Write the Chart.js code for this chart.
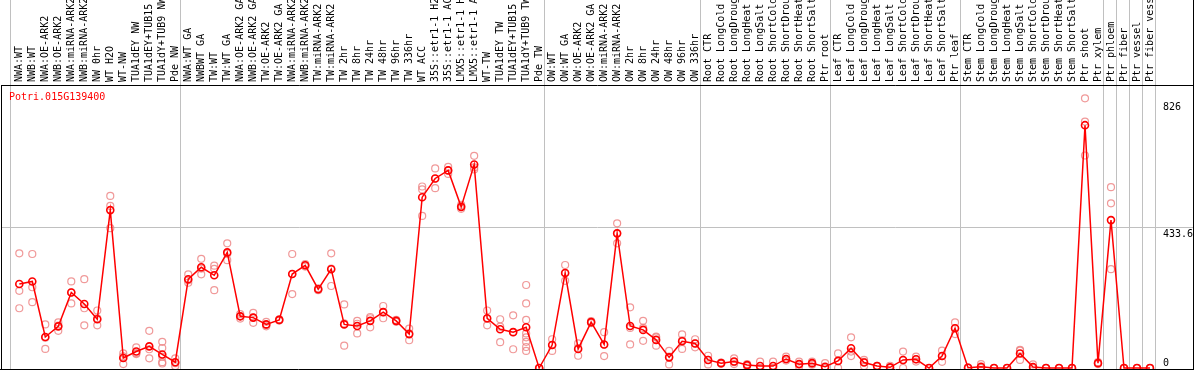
<!DOCTYPE html>
<html><head><meta charset="utf-8">
<script src="https://cdn.jsdelivr.net/npm/chart.js@4/dist/chart.umd.min.js"></script>
<style>html,body{margin:0;padding:0;background:#fff;overflow:hidden}canvas{display:block}</style>
</head><body><canvas id="c" width="1194" height="370"></canvas>
<script>
const geneName = "Potri.015G139400";

const categories = [
  "NWA:WT","NWB:WT","NWA:OE-ARK2","NWB:OE-ARK2","NWA:miRNA-ARK2","NWB:miRNA-ARK2","NW 0hr","WT H2O","WT-NW",
  "TUA1dEY NW","TUA1dEY+TUB15 NW","TUA1dY+TUB9 NW","Pde NW",
  "NWA:WT GA","NWBWT GA","TW:WT","TW:WT GA","NWA:OE-ARK2 GA","NWB:OE-ARK2 GA","TW:OE-ARK2","TW:OE-ARK2 GA",
  "NWA:miRNA-ARK2","NWB:miRNA-ARK2","TW:miRNA-ARK2","TW:miRNA-ARK2",
  "TW 2hr","TW 8hr","TW 24hr","TW 48hr","TW 96hr","TW 336hr",
  "WT ACC","35S::etr1-1 H2O","35S::etr1-1 ACC","LMX5::etr1-1 H2O","LMX5::etr1-1 ACC",
  "WT-TW","TUA1dEY TW","TUA1dEY+TUB15 TW","TUA1dY+TUB9 TW","Pde TW",
  "OW:WT","OW:WT GA","OW:OE-ARK2","OW:OE-ARK2 GA","OW:miRNA-ARK2","OW:miRNA-ARK2",
  "OW 2hr","OW 8hr","OW 24hr","OW 48hr","OW 96hr","OW 336hr",
  "Root CTR","Root LongCold","Root LongDrought","Root LongHeat","Root LongSalt","Root ShortCold","Root ShortDrought","Root ShortHeat","Root ShortSalt","Ptr root",
  "Leaf CTR","Leaf LongCold","Leaf LongDrought","Leaf LongHeat","Leaf LongSalt","Leaf ShortCold","Leaf ShortDrought","Leaf ShortHeat","Leaf ShortSalt","Ptr leaf",
  "Stem CTR","Stem LongCold","Stem LongDrought","Stem LongHeat","Stem LongSalt","Stem ShortCold","Stem ShortDrought","Stem ShortHeat","Stem ShortSalt","Ptr shoot",
  "Ptr xylem","Ptr phloem","Ptr fiber","Ptr vessel","Ptr fiber vessel"
];

const means = [
  260,268,96,129,234,198,151,489,31,51,67,42,18,
  275,312,287,358,160,156,135,149,291,318,244,306,
  135,130,146,173,146,105,
  529,587,612,499,630,
  154,120,111,126,0,
  71,294,59,142,73,417,130,118,87,33,83,76,
  25,15,20,9,6,6,28,12,15,4,
  22,61,17,6,2,25,27,0,37,123,
  1,4,0,0,45,3,0,0,0,752,
  15,458,0,0,0
];

const replicates = [
  [355,239,185],[353,250,204],[135,94,59],[141,131,115],[268,234,200],[275,185,132],[178,154,132],[533,502,433],[45,36,12],
  [64,46,43],[115,58,30],[81,62,35,18,14],[30,15,6],
  [290,272,264],[338,308,290],[317,307,241],[386,354,334],[167,160,153],[171,156,140],[143,133,129],[151,149,147],
  [353,291,229],[322,318,314],[247,244,241],[355,308,254],
  [197,138,69],[146,137,107],[158,154,126],[192,173,154],[149,146,143],[122,107,86],
  [562,553,471],[618,586,557],[623,612,601],[505,499,493],[657,621,615],
  [178,152,132],[151,128,80],[163,111,58],[257,200,149,107,95,81,65,53],[0,0,0],
  [89,71,53],[319,294,270],[76,62,38],[145,142,139],[111,72,37],[448,417,386],
  [188,124,73],[146,124,84],[97,95,69],[53,35,11],[104,86,59],[89,76,64],
  [38,25,11],[17,15,13],[30,18,12],[12,9,6],[20,0,0],[20,0,0],[35,27,23],[20,12,5],[20,13,10],[15,0,0],
  [45,21,0],[95,51,37],[25,19,6],[7,6,5],[7,0,0],[51,24,0],[35,27,20],[0,0,0],[54,37,19],[141,123,105],
  [1,1,0],[12,0,0],[0,0,0],[0,0,0],[56,54,25],[11,0,0],[0,0,0],[0,0,0],[0,0,0],[835,763,658],
  [18,15,12],[560,510,306],[0,0,0],[0,0,0],[0,0,0]
];

const groupBoundaries = [-0.7, 12.4, 40.4, 52.4, 62.4, 72.4, 83.4, 84.4, 85.4, 86.4, 87.4];
const yTickLabels = [826, 433.6, 0];
const yGridValues = [433.6];

const meanPoints = means.map((v, i) => ({x: i, y: v}));
const repPoints = [];
replicates.forEach((arr, i) => arr.forEach(v => repPoints.push({x: i, y: v})));

const FONT = '10px "DejaVu Sans Mono"';

const decor = {
  id: 'decor',
  afterDraw(chart) {
    const {ctx, chartArea: a, scales: {x, y}} = chart;
    ctx.save();
    ctx.font = FONT;
    ctx.fillStyle = '#000';
    ctx.textAlign = 'left';
    ctx.textBaseline = 'middle';
    categories.forEach((c, i) => {
      const px = x.getPixelForValue(i);
      ctx.save();
      ctx.translate(px, a.top - 3);
      ctx.rotate(-Math.PI / 2);
      ctx.fillText(c, 0, 0);
      ctx.restore();
    });
    ctx.textBaseline = 'alphabetic';
    yTickLabels.forEach(v => {
      const py = y.getPixelForValue(v);
      ctx.fillText(String(v), a.right - 30, v === 0 ? py - 2 : py + 9);
    });
    ctx.fillStyle = '#ff0000';
    ctx.fillText(geneName, a.left + 8, a.top + 15);
    ctx.strokeStyle = '#000';
    ctx.lineWidth = 1;
    ctx.beginPath();
    ctx.moveTo(Math.round(a.right) + 0.5, 0);
    ctx.lineTo(Math.round(a.right) + 0.5, 370);
    ctx.moveTo(0, Math.round(a.bottom) + 0.5);
    ctx.lineTo(1194, Math.round(a.bottom) + 0.5);
    ctx.stroke();
    ctx.restore();
  }
};

new Chart(document.getElementById('c'), {
  type: 'line',
  data: {
    datasets: [
      {
        label: geneName, data: meanPoints,
        borderColor: '#ff0000', borderWidth: 1.5,
        pointRadius: 3.5, pointBorderWidth: 1.6,
        pointBorderColor: '#ff0000', pointBackgroundColor: 'rgba(0,0,0,0)',
        fill: false, tension: 0, clip: false
      },
      {
        label: 'replicates', data: repPoints, showLine: false,
        pointRadius: 3.5, pointBorderWidth: 1.2,
        pointBorderColor: 'rgba(236,128,128,0.8)', pointBackgroundColor: 'rgba(0,0,0,0)',
        clip: false
      }
    ]
  },
  options: {
    responsive: false, animation: false, devicePixelRatio: 1,
    layout: {autoPadding: false, padding: {left: 0, right: 1, top: 0, bottom: 1}},
    plugins: {legend: {display: false}, tooltip: {enabled: false}, title: {display: false}},
    scales: {
      x: {
        type: 'linear', position: 'top', min: -1.408, max: 90.31,
        afterBuildTicks: s => { s.ticks = groupBoundaries.map(v => ({value: v})); },
        afterFit: s => { s.height = 85; },
        ticks: {display: false},
        grid: {color: '#c0c0c0', lineWidth: 1, drawTicks: true, tickLength: 85, tickColor: '#c0c0c0'},
        border: {display: true, color: '#000', width: 1}
      },
      y: {
        type: 'linear', position: 'left', min: -3.1, max: 876.4,
        afterBuildTicks: s => { s.ticks = yGridValues.map(v => ({value: v})); },
        afterFit: s => { s.width = 1; },
        ticks: {display: false},
        grid: {color: '#c0c0c0', lineWidth: 1, drawTicks: false},
        border: {display: true, color: '#000', width: 1}
      }
    }
  },
  plugins: [decor]
});
</script>
</body></html>
